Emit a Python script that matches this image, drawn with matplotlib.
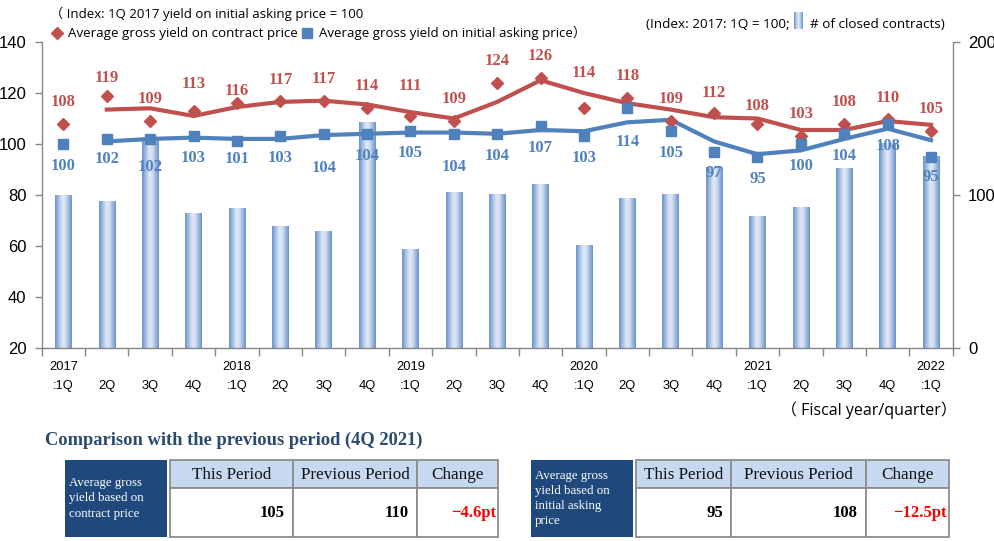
import numpy as np
import matplotlib
matplotlib.use("Agg")
import matplotlib.pyplot as plt
from matplotlib.colors import LinearSegmentedColormap
from matplotlib.patches import Rectangle
from matplotlib.lines import Line2D

# ---------------- data ----------------
quarters = ["2017\n:1Q", "\n2Q", "\n3Q", "\n4Q",
            "2018\n:1Q", "\n2Q", "\n3Q", "\n4Q",
            "2019\n:1Q", "\n2Q", "\n3Q", "\n4Q",
            "2020\n:1Q", "\n2Q", "\n3Q", "\n4Q",
            "2021\n:1Q", "\n2Q", "\n3Q", "\n4Q",
            "2022\n:1Q"]
closed_contracts = [100, 96, 136, 88, 91.5, 80, 76.5, 148, 64.7, 102, 100.7,
                    107, 67.3, 98, 100.7, 118.5, 86.3, 92, 117.6, 134, 125.7]
contract_yield = [108, 119, 109, 113, 116, 117, 117, 114, 111, 109, 124,
                  126, 114, 118, 109, 112, 108, 103, 108, 110, 105]
asking_yield = [100, 102, 102, 103, 101, 103, 104, 104, 105, 104, 104,
                107, 103, 114, 105, 97, 95, 100, 104, 108, 95]
# trend lines (2-period moving average as drawn), starting at 2017 2Q
contract_trend = [113.5, 114, 111, 114.5, 116.5, 117, 115.5, 112.5, 110, 116.5,
                  125, 120, 116, 113.5, 110.5, 110, 105.5, 105.5, 109, 107.5]
asking_trend = [101, 102, 102.5, 102, 102, 103.5, 104, 104.5, 104.5, 104,
                105.5, 105, 108.5, 109.5, 101, 96, 97.5, 102, 106, 101.5]

table_cols = ["This Period", "Previous Period", "Change"]
contract_table = ["105", "110", "\u22124.6pt"]
asking_table = ["95", "108", "\u221212.5pt"]

# label offsets in pixels (styling only)
red_dy = [22, 18, 22, 27, 12, 21, 22, 22, 30, 22, 22, 22, 35, 22, 22, 20, 18, 22, 22, 21, 22]
blue_dy = [-22, -20, -28, -22, -18, -22, -34, -22, -22, -33, -22, -22, -22, -34, -22,
           -21, -22, -22, -22, -22, -20]

RED = "#C0504D"
BLUE = "#4F81BD"
GRAY = "#868686"
SANS = ["Liberation Sans", "DejaVu Sans"]
UI = ["Open Sans", "Noto Sans CJK JP", "DejaVu Sans"]
SERIF = ["Liberation Serif", "DejaVu Serif"]

W, H = 994, 541
fig = plt.figure(figsize=(W / 100, H / 100), dpi=100)

x0, x1, ytop, ybot = 41.7, 952.7, 42, 348
ax = fig.add_axes([x0 / W, 1 - ybot / H, (x1 - x0) / W, (ybot - ytop) / H])
axl = ax.twinx()

n = len(quarters)
x = np.arange(n)

# ---------- bars with horizontal gradient ----------
bar_cmap = LinearSegmentedColormap.from_list(
    "bar", [(0.0, "#6A92CA"), (0.28, "#B7CCEA"), (0.45, "#E2EAF6"),
            (0.62, "#D2DFF1"), (1.0, "#6A92CA")])
grad = np.linspace(0, 1, 64).reshape(1, -1)
bars = ax.bar(x, closed_contracts, width=0.38, color="none", edgecolor="none")
for p in bars.patches:
    bx, by = p.get_x(), p.get_y()
    bw, bh = p.get_width(), p.get_height()
    im = ax.imshow(grad, cmap=bar_cmap, aspect="auto",
                   extent=[bx, bx + bw, by, by + bh], zorder=1, interpolation="bicubic")
    im.set_clip_path(p)
ax.set_ylim(0, 200)
ax.set_xlim(-0.5, n - 0.5)
ax.yaxis.tick_right()
ax.set_yticks([0, 100, 200])
ax.tick_params(axis="y", which="major", direction="out", length=5, width=1,
               color=GRAY, labelsize=12, pad=6)
for t in ax.get_yticklabels():
    t.set_fontfamily(SANS)

# ---------- lines ----------
axl.set_zorder(ax.get_zorder() + 1)
axl.patch.set_visible(False)
axl.plot(x[1:], contract_trend, color=RED, lw=3, solid_joinstyle="round", zorder=2)
axl.plot(x[1:], asking_trend, color=BLUE, lw=3, solid_joinstyle="round", zorder=2)
axl.plot(x, contract_yield, ls="none", marker="D", ms=6.5, color=RED, zorder=3)
axl.plot(x, asking_yield, ls="none", marker="s", ms=7, color=BLUE, zorder=3)
for i in range(n):
    axl.annotate(str(contract_yield[i]), (x[i], contract_yield[i]),
                 xytext=(0, red_dy[i] * 0.72), textcoords="offset points",
                 ha="center", va="center", fontsize=12, fontweight="bold",
                 color=RED, family=SERIF, zorder=4)
    axl.annotate(str(asking_yield[i]), (x[i], asking_yield[i]),
                 xytext=(0, blue_dy[i] * 0.72), textcoords="offset points",
                 ha="center", va="center", fontsize=12, fontweight="bold",
                 color=BLUE, family=SERIF, zorder=4)
axl.set_ylim(20, 140)
axl.set_xlim(-0.5, n - 0.5)
axl.yaxis.tick_left()
axl.set_yticks(np.arange(20, 141, 20))
axl.tick_params(axis="y", which="major", direction="out", length=5, width=1,
                color=GRAY, labelsize=12, pad=6)
for t in axl.get_yticklabels():
    t.set_fontfamily(SANS)

# ---------- x axis ----------
ax.set_xticks(x)
ax.set_xticklabels(quarters, fontsize=9.3, family=SANS, linespacing=1.8)
ax.set_xticks(np.arange(-0.5, n, 1), minor=True)
ax.tick_params(axis="x", which="major", length=0, pad=9)
ax.tick_params(axis="x", which="minor", length=6, width=1, color=GRAY, direction="out")
axl.tick_params(axis="x", which="both", length=0)

for a in (ax, axl):
    for s in a.spines.values():
        s.set_visible(False)
ax.spines["bottom"].set_visible(True)
ax.spines["right"].set_visible(True)
axl.spines["left"].set_visible(True)
for s in (ax.spines["bottom"], ax.spines["right"], axl.spines["left"]):
    s.set_color(GRAY)
    s.set_linewidth(1)

# ---------- overlay (pixel coordinates) ----------
ov = fig.add_axes([0, 0, 1, 1], zorder=10)
ov.set_xlim(0, W)
ov.set_ylim(H, 0)
ov.axis("off")
ov.patch.set_visible(False)

ov.text(50, 14, "\uff08 Index: 1Q 2017 yield on initial asking price = 100",
        fontsize=9.5, family=UI, va="center", ha="left")
ov.add_line(Line2D([57], [33], marker="D", ms=6, color=RED, ls="none"))
ov.text(68, 33, "Average gross yield on contract price", fontsize=9.6, family=UI,
        va="center", ha="left")
ov.add_line(Line2D([307], [33], marker="s", ms=6.5, color=BLUE, ls="none"))
ov.text(319, 33, "Average gross yield on initial asking price\uff09", fontsize=9.5,
        family=UI, va="center", ha="left")
ov.text(790, 24, "(Index: 2017: 1Q = 100;", fontsize=9.7, family=UI,
        va="center", ha="right")
icon = Rectangle((794, 12), 9, 17, facecolor="none", edgecolor="none")
ov.add_patch(icon)
im = ov.imshow(grad, cmap=bar_cmap, aspect="auto", extent=[794, 803, 29, 12],
               interpolation="bicubic")
im.set_clip_path(icon)
ov.text(810, 24, "# of closed contracts)", fontsize=9.7, family=UI,
        va="center", ha="left")
ov.text(957, 410, "\uff08 Fiscal year/quarter\uff09", fontsize=11.5, family=UI,
        va="center", ha="right")
ov.set_xlim(0, W)
ov.set_ylim(H, 0)

ov.text(45, 440, "Comparison with the previous period (4Q 2021)", fontsize=13.3,
        family=SERIF, color="#2A4A70", fontweight="bold", va="center", ha="left")

DARK = "#1F497D"
HEAD = "#C6D9F1"
BORDER = "#8C8C8C"


def draw_table(dark_x, dark_w, label, col_edges, values):
    ov.add_patch(Rectangle((dark_x, 460), dark_w, 77, facecolor=DARK, edgecolor="none"))
    ov.text(dark_x + 4, 498.5, label, color="white", fontsize=9.3, family=SERIF,
            va="center", ha="left", linespacing=1.35)
    for j in range(3):
        l, r = col_edges[j], col_edges[j + 1]
        ov.add_patch(Rectangle((l, 460), r - l, 28, facecolor=HEAD,
                               edgecolor=BORDER, lw=1.3))
        ov.add_patch(Rectangle((l, 488), r - l, 49, facecolor="white",
                               edgecolor=BORDER, lw=1.3))
        ov.text((l + r) / 2, 475, table_cols[j], fontsize=12.3, family=SERIF,
                va="center", ha="center", color="#111111")
        ov.text(r - 8 if j < 2 else r - 2, 513, values[j], fontsize=12,
                family=SERIF, fontweight="bold", va="center", ha="right",
                color="red" if j == 2 else "black")


draw_table(65, 102, "Average gross\nyield based on\ncontract price",
           [170, 293, 417, 498], contract_table)
draw_table(531, 102, "Average gross\nyield based on\ninitial asking\nprice",
           [636, 731, 866, 949], asking_table)

fig.savefig("out.png", dpi=100)
